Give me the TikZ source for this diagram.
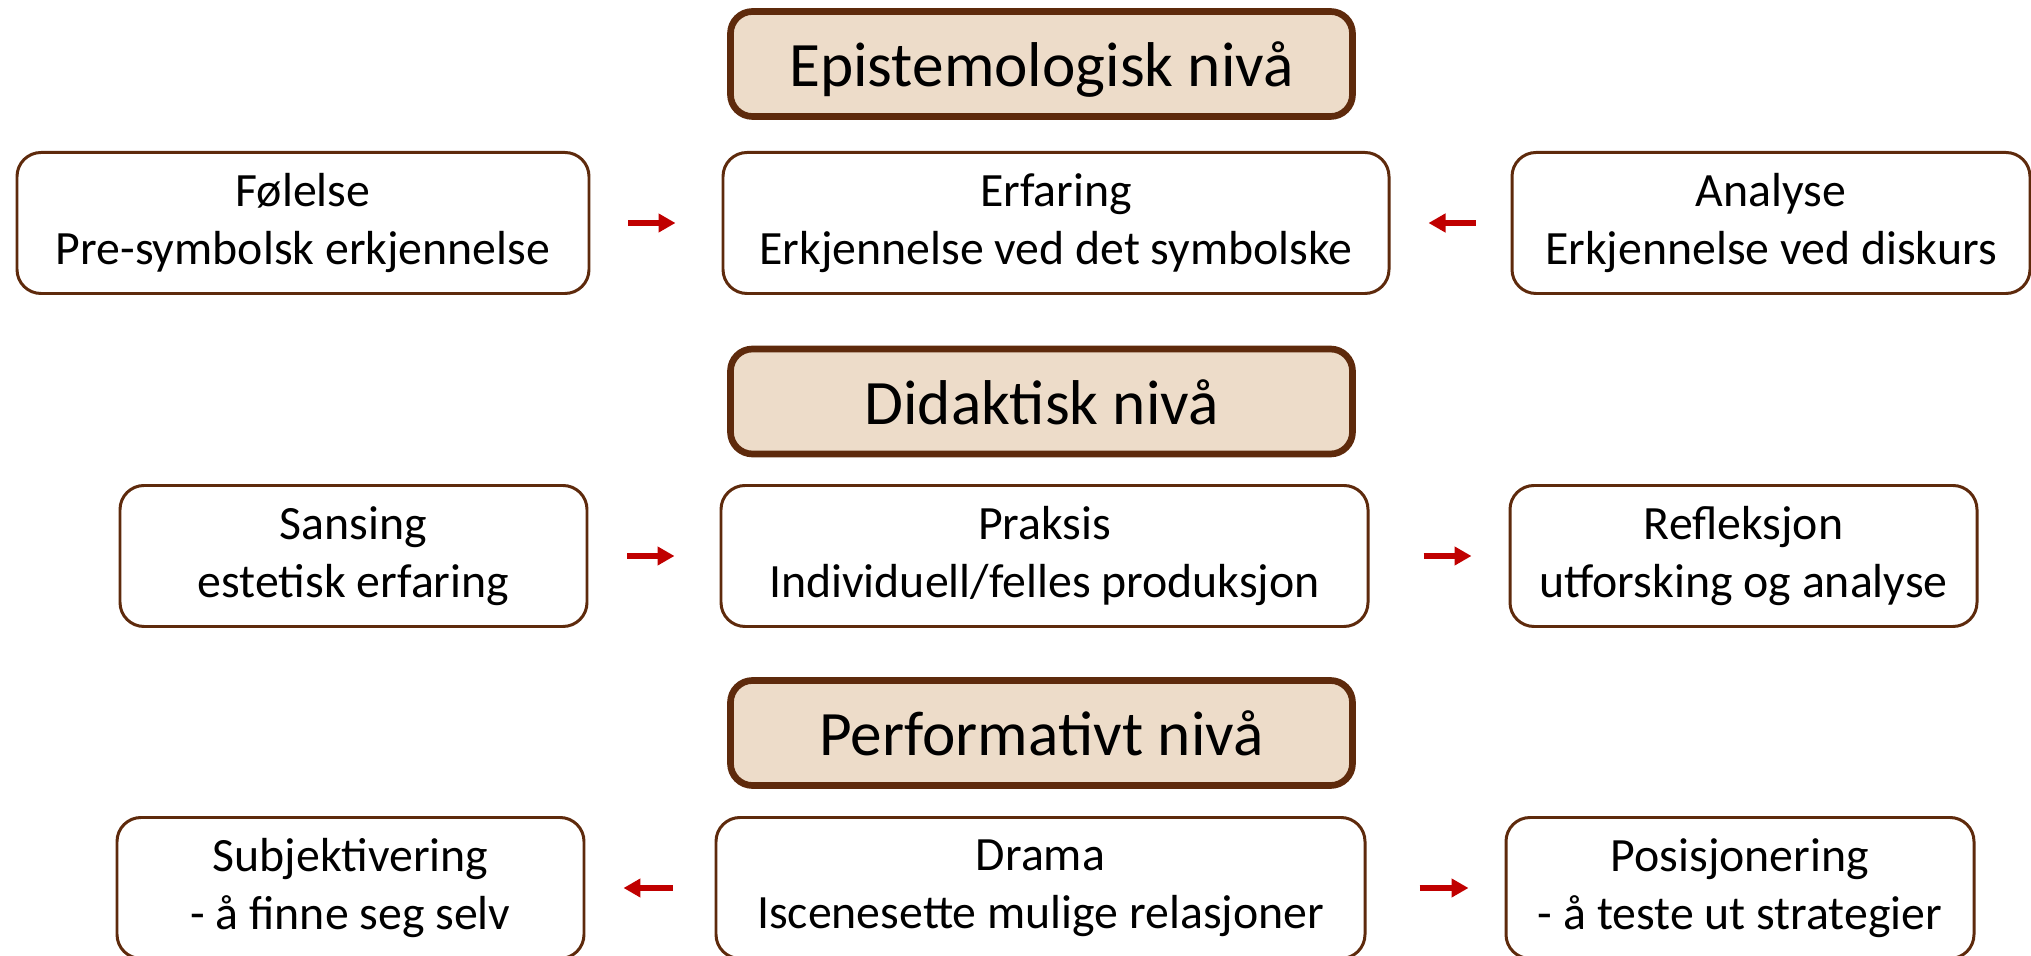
\documentclass[tikz,border=0pt]{standalone}
\usepackage{fontspec}
\setmainfont{Carlito}
\usetikzlibrary{arrows.meta,positioning}
\definecolor{FrameBrown}{HTML}{5E2A0C}
\definecolor{LevelFill}{HTML}{EDDCC9}
\definecolor{ArrowRed}{HTML}{C00000}
\tikzset{
  figure/.style={font=\fontsize{13.6}{16.6}\selectfont,text=black},
  level/.style={draw=FrameBrown,line width=1.9pt,rounded corners=2.2mm,fill=LevelFill,
    minimum width=6.22cm,minimum height=1.05cm,font=\fontsize{18}{22}\selectfont,
    text height=15pt,text depth=2pt},
  panel/.style={draw=FrameBrown,line width=0.85pt,rounded corners=2.4mm,fill=white,align=center,
    minimum height=1.41cm,execute at begin node={\rule{0pt}{16pt}}},
  flow/.style={-{Triangle[length=1.7mm,width=1.8mm]},line width=0.6mm,draw=ArrowRed},
}
\begin{document}
\begin{tikzpicture}[figure]
  \useasboundingbox (0,0) rectangle (20.31,-9.56);

  % levels
  \node[level] (epist) at (10.415,-0.64) {Epistemologisk nivå};
  \node[level] (didakt) at (10.415,-4.015) {Didaktisk nivå};
  \node[level] (perform) at (10.415,-7.33) {Performativt nivå};

  % epistemologisk
  \node[panel,minimum width=5.72cm] (folelse) at (3.03,-2.23) {Følelse\\Pre-symbolsk erkjennelse};
  \node[panel,minimum width=6.66cm] (erfaring) at (10.56,-2.23) {Erfaring\\Erkjennelse ved det symbolske};
  \node[panel,minimum width=5.18cm] (analyse) at (17.71,-2.23) {Analyse\\Erkjennelse ved diskurs};
  \draw[flow] ([xshift=3.8mm]folelse.east) -- ([xshift=-4.6mm]erfaring.west);
  \draw[flow] ([xshift=-3.5mm]analyse.west) -- ([xshift=3.8mm]erfaring.east);

  % didaktisk
  \node[panel,minimum width=4.67cm] (sansing) at (3.535,-5.56) {Sansing\\estetisk erfaring};
  \node[panel,minimum width=6.47cm] (praksis) at (10.445,-5.56) {Praksis\\Individuell/felles produksjon};
  \node[panel,minimum width=4.67cm] (refleksjon) at (17.435,-5.56) {Refleksjon\\utforsking og analyse};
  \draw[flow] ([xshift=3.9mm]sansing.east) -- ([xshift=-4.5mm]praksis.west);
  \draw[flow] ([xshift=5.4mm]praksis.east) -- ([xshift=-3.7mm]refleksjon.west);

  % performativt
  \node[panel,minimum width=4.67cm] (subjekt) at (3.505,-8.88) {Subjektivering\\- å finne seg selv};
  \node[panel,minimum width=6.49cm] (drama) at (10.405,-8.88) {Drama\\Iscenesette mulige relasjoner};
  \node[panel,minimum width=4.68cm] (posisjon) at (17.40,-8.88) {Posisjonering\\- å teste ut strategier};
  \draw[flow] ([xshift=-4.2mm]drama.west) -- ([xshift=3.8mm]subjekt.east);
  \draw[flow] ([xshift=5.3mm]drama.east) -- ([xshift=-3.6mm]posisjon.west);
\end{tikzpicture}
\end{document}
